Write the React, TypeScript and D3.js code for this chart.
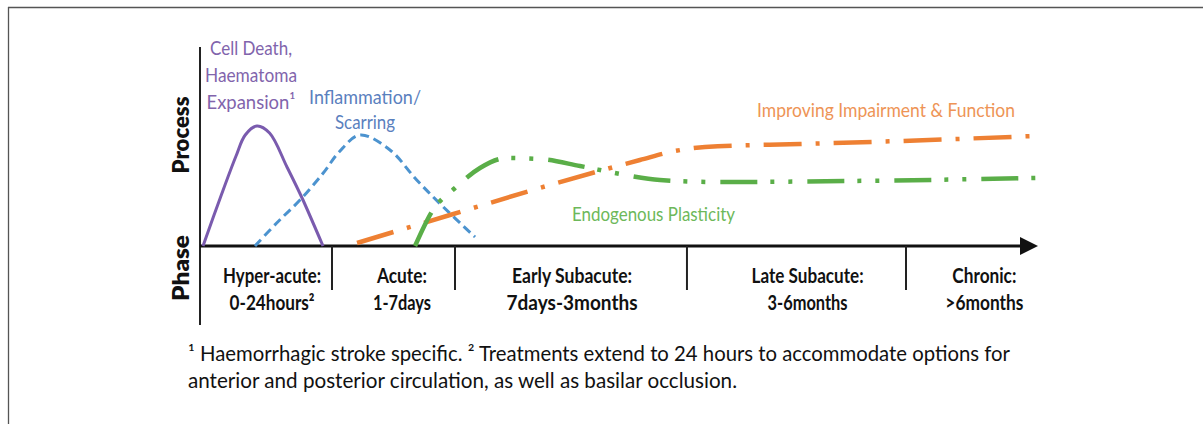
import React from "react";
import * as d3 from "d3";

// ---- data ----
const phaseNames = ["Hyper-acute:", "Acute:", "Early Subacute:", "Late Subacute:", "Chronic:"];
const phaseRanges = ["0-24hours²", "1-7days", "7days-3months", "3-6months", ">6months"];
const phaseBoundaries = [15.75, 30.43, 58.11, 84.25];
const phaseLabelCenters = [8.6, 24.1, 44.4, 72.5, 93.6];

const cellDeath: [number, number][] = [[0.36, 0], [2.5, 25], [4.3, 45], [5.4, 55.5], [6.8, 60], [8.3, 56.5], [10.38, 39.5], [12.29, 23], [14.68, 0]];
const inflammation: [number, number][] = [[6.56, 0], [9.15, 11.5], [11.93, 23], [14.71, 36.5], [16.6, 47], [19.09, 55.5], [22.67, 48], [25.86, 33], [29.04, 19.5], [32.82, 4.5]];
const improving: [number, number][] = [[18.74, 1.5], [29.83, 15.5], [41.77, 30.5], [52.5, 43], [56.68, 47.5], [60.26, 49.5], [71.6, 51], [83.53, 52.5], [99.64, 55]];
const plasticity: [number, number][] = [[25.66, 0], [27.8, 18], [30.43, 29], [33.41, 39], [36.63, 44], [40.57, 43.5], [45.35, 40], [50.12, 36], [54.89, 33], [62.05, 32], [77.57, 32.5], [100, 34]];

const footnoteLines = [
  "¹ Haemorrhagic stroke specific. ² Treatments extend to 24 hours to accommodate options for",
  "anterior and posterior circulation, as well as basilar occlusion.",
];

// ---- layout ----
const W = 1203, H = 424;
const FONT = "Lato, 'Open Sans', sans-serif";
const x = d3.scaleLinear().domain([0, 100]).range([200, 1038]);
const y = d3.scaleLinear().domain([0, 100]).range([246, 46]);

const smooth = d3.line<[number, number]>().x(d => x(d[0])).y(d => y(d[1])).curve(d3.curveCatmullRom.alpha(0.5));
const mono = d3.line<[number, number]>().x(d => x(d[0])).y(d => y(d[1])).curve(d3.curveMonotoneX);

const series = [
  { data: cellDeath, gen: smooth, color: "#7A5BAE", width: 3, dash: "none" },
  { data: inflammation, gen: smooth, color: "#4C93CF", width: 3, dash: "9 5" },
  { data: improving, gen: mono, color: "#EE8033", width: 4.5, dash: "38 14 4 14" },
  { data: plasticity, gen: mono, color: "#5AAE48", width: 4.5, dash: "37 13 4 14 4 15" },
];

const labels = [
  { lines: ["Cell Death,", "Haematoma", "Expansion¹"], cx: 251, y0: 55, dy: 27, color: "#8164AC", widths: [82, 92, 89] },
  { lines: ["Inflammation/", "Scarring"], cx: 365, y0: 104, dy: 25, color: "#5A80BE", widths: [112, 60] },
  { lines: ["Improving Impairment & Function"], cx: 886, y0: 117, dy: 0, color: "#EE9456", widths: [258] },
  { lines: ["Endogenous Plasticity"], cx: 653.5, y0: 221, dy: 0, color: "#6DB85A", widths: [163] },
];

const phaseNameWidths = [98, 50, 120, 112, 64];
const phaseRangeWidths = [85, 58, 131, 80, 78];

export default function App() {
  const axisY = y(0);
  return (
    <svg width={W} height={H} style={{ position: "absolute", left: 0, top: 0, background: "#fff" }}>
      {/* frame */}
      <line x1={8} y1={7.5} x2={W} y2={7.5} stroke="#555" strokeWidth={1.3} />
      <line x1={8.5} y1={7} x2={8.5} y2={H} stroke="#555" strokeWidth={1.3} />

      {/* vertical axis */}
      <line x1={x(0)} y1={47} x2={x(0)} y2={325} stroke="#222" strokeWidth={2} />
      {/* horizontal axis */}
      <line x1={x(0)} y1={axisY} x2={x(100) - 16} y2={axisY} stroke="#111" strokeWidth={3.2} />
      <path d={`M${x(100) - 18},${axisY - 9} L${x(100)},${axisY} L${x(100) - 18},${axisY + 9} Z`} fill="#111" />

      {/* phase boundaries */}
      {phaseBoundaries.map((b, i) => (
        <line key={i} x1={x(b)} y1={axisY} x2={x(b)} y2={290} stroke="#222" strokeWidth={2} />
      ))}

      {/* axis titles */}
      <text transform={`translate(189,135) rotate(-90)`} textAnchor="middle" fontFamily={FONT} fontWeight={800} fontSize={22} fill="#111" textLength={77} lengthAdjust="spacingAndGlyphs">Process</text>
      <text transform={`translate(189,268) rotate(-90)`} textAnchor="middle" fontFamily={FONT} fontWeight={800} fontSize={22} fill="#111" textLength={66} lengthAdjust="spacingAndGlyphs">Phase</text>

      {/* phase labels */}
      {phaseNames.map((n, i) => (
        <g key={n}>
          <text x={x(phaseLabelCenters[i])} y={283} textAnchor="middle" fontFamily={FONT} fontWeight={700} fontSize={21} fill="#111" textLength={phaseNameWidths[i]} lengthAdjust="spacingAndGlyphs">{n}</text>
          <text x={x(phaseLabelCenters[i])} y={310} textAnchor="middle" fontFamily={FONT} fontWeight={700} fontSize={21} fill="#111" textLength={phaseRangeWidths[i]} lengthAdjust="spacingAndGlyphs">{phaseRanges[i]}</text>
        </g>
      ))}

      {/* curves */}
      {series.map((s, i) => (
        <path key={i} d={s.gen(s.data) || ""} fill="none" stroke={s.color} strokeWidth={s.width} strokeDasharray={s.dash} strokeLinecap="butt" />
      ))}

      {/* curve labels */}
      {labels.map((l, i) => (
        <g key={i}>
          {l.lines.map((t, j) => (
            <text key={j} x={l.cx} y={l.y0 + j * l.dy} textAnchor="middle" fontFamily={FONT} fontSize={20} fill={l.color} textLength={l.widths[j]} lengthAdjust="spacingAndGlyphs">{t}</text>
          ))}
        </g>
      ))}

      {/* footnote */}
      <text x={188} y={361} fontFamily={FONT} fontSize={21} fill="#111" textLength={822} lengthAdjust="spacingAndGlyphs">{footnoteLines[0]}</text>
      <text x={188} y={388} fontFamily={FONT} fontSize={21} fill="#111" textLength={549} lengthAdjust="spacingAndGlyphs">{footnoteLines[1]}</text>
    </svg>
  );
}
